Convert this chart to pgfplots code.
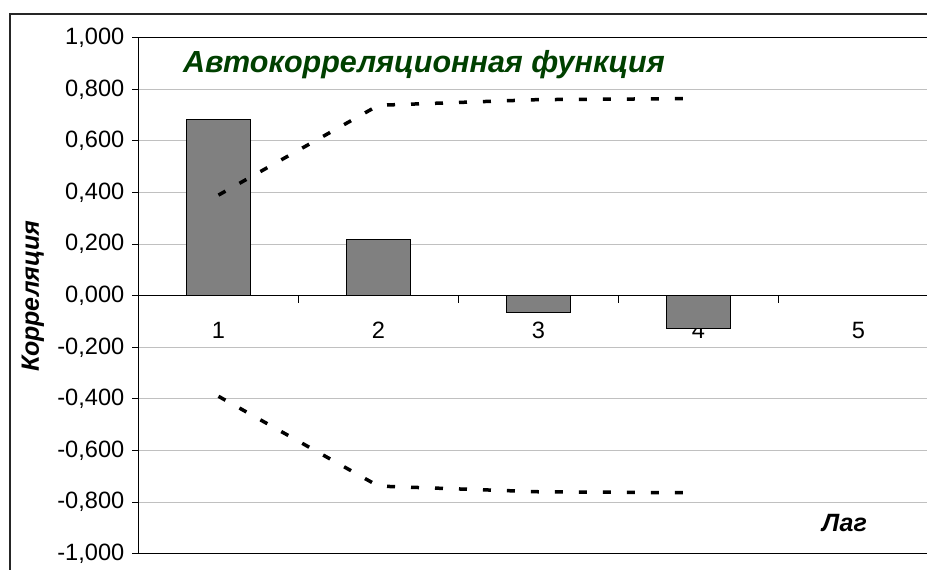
\documentclass[border=0pt]{standalone}
\usepackage{pgfplots}
\pgfplotsset{compat=1.18}
\usepackage{fontspec}
\setmainfont{Liberation Sans}
\definecolor{titlegreen}{RGB}{0,64,0}
\definecolor{bargray}{RGB}{128,128,128}
\definecolor{gridgray}{RGB}{192,192,192}
\begin{document}
\begin{tikzpicture}[x=1pt,y=1pt]
\useasboundingbox (0,0) rectangle (927,570);
\clip (0,0) rectangle (927,570);
\draw[line width=1.3pt, black!85] (10,-5) -- (10,556) -- (940,556);
\begin{axis}[
  at={(138.5pt,16.3pt)}, anchor=south west,
  scale only axis, width=800pt, height=516pt,
  xmin=0.5, xmax=5.5, ymin=-1, ymax=1,
  axis x line*=middle, axis y line*=left,
  axis line style={line width=1.3pt, black},
  xtick={1,2,3,4,5},
  xticklabels={1,2,3,4,5},
  minor xtick={1.5,2.5,3.5,4.5},
  x tick style={draw=none},
  minor x tick style={draw=black, line width=1pt},
  minor tick length=7pt,
  major tick length=6pt,
  tick align=outside,
  ytick={-1,-0.8,-0.6,-0.4,-0.2,0,0.2,0.4,0.6,0.8,1},
  yticklabels={{-1,000},{-0,800},{-0,600},{-0,400},{-0,200},{0,000},{0,200},{0,400},{0,600},{0,800},{1,000}},
  ytick style={draw=black, line width=1pt},
  ymajorgrids,
  major grid style={gridgray, line width=1pt},
  tick label style={font=\fontsize{23.6}{28}\selectfont, inner sep=0pt},
  yticklabel style={xshift=-8pt},
  xticklabel style={yshift=-20pt},
  clip=false,
]
\addplot[ybar, bar width=0.4, bar shift=0pt, fill=bargray, draw=black, line width=1.5pt]
  coordinates {(1,0.682) (2,0.217) (3,-0.066) (4,-0.128)};
\addplot[black, line width=3.5pt, dash pattern=on 8pt off 16pt]
  coordinates {(1,0.39) (2,0.738) (3,0.760) (4,0.764)};
\addplot[black, line width=3.5pt, dash pattern=on 8pt off 16pt]
  coordinates {(1,-0.39) (2,-0.738) (3,-0.760) (4,-0.764)};
\draw[line width=1.3pt, black] (rel axis cs:0,1) -- (rel axis cs:1,1);
\draw[line width=1.3pt, black] (rel axis cs:0,0) -- (rel axis cs:1,0);
\end{axis}
\node[anchor=base west, text=titlegreen, inner sep=0pt,
  font=\fontsize{30.5}{35}\selectfont\bfseries\itshape] at (183,497) {Автокорреляционная функция};
\node[anchor=base, rotate=90, inner sep=0pt,
  font=\fontsize{25}{29}\selectfont\bfseries\itshape] at (39,274) {Корреляция};
\node[anchor=base west, inner sep=0pt,
  font=\fontsize{25}{29}\selectfont\bfseries\itshape] at (822,38) {Лаг};
\end{tikzpicture}
\end{document}
